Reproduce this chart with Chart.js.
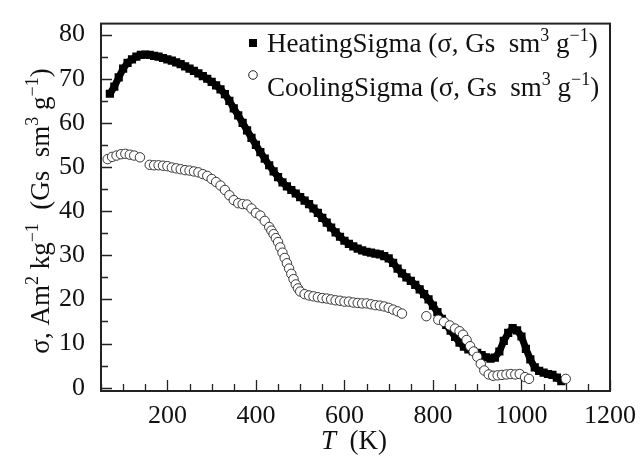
<!DOCTYPE html>
<html>
<head>
<meta charset="utf-8">
<script src="https://cdn.jsdelivr.net/npm/chart.js@4.4.1/dist/chart.umd.min.js"></script>
<style>
    html, body { margin: 0; padding: 0; background: #fff; }
    #wrap { width: 644px; height: 456px; }
</style>
</head>
<body>
<div id="wrap"><canvas id="chart" width="644" height="456"></canvas></div>
<script>
// heating run, T in K and sigma
const heatingT = [70, 80, 90, 100, 110, 120, 130, 140, 150, 160, 170, 180, 190, 200, 210, 220, 230, 240, 250, 260,
    270, 280, 290, 300, 310, 320, 330, 340, 350, 360, 370, 380, 390, 400, 410, 420, 430, 440, 450, 460,
    470, 480, 490, 500, 510, 520, 530, 540, 550, 560, 570, 580, 590, 600, 610, 620, 630, 640, 650, 660,
    670, 680, 690, 700, 710, 720, 730, 740, 750, 760, 770, 780, 790, 800, 810, 820, 830, 840, 850, 860,
    870, 880, 890, 900, 910, 920, 930, 940, 950, 960, 970, 980, 990, 1000, 1010, 1020, 1030, 1040, 1050, 1060,
    1070, 1080, 1090]
const heatingSigma = [66.6, 68.2, 70.3, 72.3, 73.6, 74.4, 75.0, 75.4, 75.5, 75.4, 75.2, 75.0, 74.7, 74.4, 74.1, 73.7, 73.3, 72.8, 72.3, 71.8,
    71.2, 70.6, 70.0, 69.3, 68.5, 67.6, 66.5, 65.0, 63.3, 61.7, 60.0, 58.3, 56.6, 55.0, 53.4, 51.9, 50.4, 49.0, 47.7, 46.5,
    45.6, 44.8, 44.0, 43.2, 42.4, 41.6, 40.6, 39.6, 38.5, 37.4, 36.3, 35.2, 34.2, 33.3, 32.6, 32.0, 31.5, 31.1, 30.8, 30.6,
    30.4, 30.2, 29.8, 29.3, 28.3, 27.0, 25.9, 25.0, 24.2, 23.3, 22.3, 21.2, 20.0, 18.6, 17.1, 15.6, 14.2, 12.9, 11.5, 10.2,
    9.3, 8.7, 8.3, 7.9, 7.4, 6.9, 6.6, 6.8, 8.2, 10.6, 12.4, 13.5, 13.0, 11.6, 8.8, 6.4, 4.6, 3.8, 3.4, 3.1,
    2.9, 2.3, 1.5]

// cooling run
const coolingT = [65, 75, 85, 95, 105, 115, 125, 138,
    160, 170, 180, 190, 200, 210, 220, 230, 240, 250, 260, 270, 280, 290, 300, 310, 320, 330, 340, 350,
    360, 370, 380, 390, 400, 410, 420, 430, 435, 440, 445, 450, 455, 460, 465, 470, 475, 480, 485, 490, 495, 500,
    510, 520, 530, 540, 550,
    560, 570, 580, 590, 600, 610, 620, 630, 640, 650, 660, 670, 680, 690, 700, 710, 720, 730,
    785, 812, 825, 838, 850, 860, 868, 876, 884, 892, 900, 908, 916, 926, 936, 946, 956, 966, 976, 986,
    996, 1008, 1017, 1100]
const coolingSigma = [51.8, 52.3, 52.6, 52.9, 53.0, 52.8, 52.6, 52.2,
    50.5, 50.4, 50.4, 50.3, 50.2, 49.9, 49.7, 49.5, 49.3, 49.2, 49.0, 48.8, 48.4, 48.0, 47.3, 46.6, 45.8, 44.8, 43.6, 42.5,
    41.8, 41.6, 41.5, 40.6, 39.6, 39.0, 37.8, 36.4, 35.6, 34.8, 33.9, 33.0, 31.8, 30.6, 29.4, 28.2, 27.0, 25.8, 24.6, 23.4, 22.5, 21.8,
    21.2, 20.9, 20.7, 20.5, 20.3,
    20.2, 20.0, 19.8, 19.7, 19.5, 19.5, 19.3, 19.2, 19.1, 19.1, 18.9, 18.7, 18.6, 18.4, 18.1, 17.7, 17.3, 16.8,
    16.2, 15.4, 14.9, 14.1, 13.4, 12.8, 12.0, 10.8, 9.4, 8.2, 7.0, 5.4, 3.9, 3.0, 2.7, 2.8, 2.9, 3.0, 3.1, 3.0,
    3.1, 2.4, 2.0, 2.0]

const xTicks = [200, 400, 600, 800, 1000, 1200]
const yTicks = [0, 10, 20, 30, 40, 50, 60, 70, 80]
const xMinorStep = 50
const yMinorStep = 5

const serif = "'Liberation Serif', 'Times New Roman', serif"
const ink = '#111'
const textSize = 27
const tickSize = 26

// [text, superscript?]
const yTitle = [['σ, Am', false], ['2', true], [' kg', false], ['\u22121', true], ['  (Gs  sm', false], ['3', true], [' g', false], ['\u22121', true], [')', false]]
const heatLabel = [['HeatingSigma (σ, Gs  sm', false], ['3', true], [' g', false], ['\u22121', true], [')', false]]
const coolLabel = [['CoolingSigma (σ, Gs  sm', false], ['3', true], [' g', false], ['\u22121', true], [')', false]]

function richWidth(ctx, parts, size) {
    let w = 0
    parts.forEach(([text, sup]) => {
        ctx.font = `${sup ? Math.round(size * 0.68) : size}px ${serif}`
        w += ctx.measureText(text).width
    })
    return w
}

function richText(ctx, x, y, parts, size) {
    let cx = x
    ctx.textAlign = 'left'
    ctx.textBaseline = 'alphabetic'
    parts.forEach(([text, sup]) => {
        ctx.font = `${sup ? Math.round(size * 0.68) : size}px ${serif}`
        ctx.fillText(text, cx, sup ? y - size * 0.42 : y)
        cx += ctx.measureText(text).width
    })
}

const framePlugin = {
    id: 'frame',
    afterDatasetsDraw(chart) {
        const { ctx, chartArea: a, scales: { x, y } } = chart
        ctx.save()
        ctx.strokeStyle = '#222'
        ctx.lineWidth = 1.3
        // inward ticks
        ctx.beginPath()
        for (let v = Math.ceil(x.min / xMinorStep) * xMinorStep; v <= x.max; v += xMinorStep) {
            const px = Math.round(x.getPixelForValue(v)) + 0.5
            const len = v % 200 === 0 ? 11 : 7
            ctx.moveTo(px, a.bottom)
            ctx.lineTo(px, a.bottom - len)
        }
        for (let v = 0; v <= y.max; v += yMinorStep) {
            const py = Math.round(y.getPixelForValue(v)) + 0.5
            const len = v % 10 === 0 ? 11 : 7
            ctx.moveTo(a.left, py)
            ctx.lineTo(a.left + len, py)
        }
        ctx.stroke()
        ctx.lineWidth = 2
        ctx.strokeRect(a.left, a.top, a.right - a.left, a.bottom - a.top)

        // legend
        ctx.fillStyle = '#000'
        ctx.fillRect(249, 39, 8, 8)
        ctx.beginPath()
        ctx.arc(253, 75, 4.3, 0, Math.PI * 2)
        ctx.fillStyle = '#fff'
        ctx.fill()
        ctx.lineWidth = 1
        ctx.strokeStyle = '#222'
        ctx.stroke()
        ctx.fillStyle = ink
        richText(ctx, 267, 52, heatLabel, textSize)
        richText(ctx, 267, 96, coolLabel, textSize)

        // axis titles
        ctx.save()
        ctx.translate(49, 211)
        ctx.rotate(-Math.PI / 2)
        richText(ctx, -richWidth(ctx, yTitle, textSize) / 2, 0, yTitle, textSize)
        ctx.restore()

        ctx.font = `italic ${textSize}px ${serif}`
        const tw = ctx.measureText('T').width
        ctx.font = `${textSize}px ${serif}`
        const kw = ctx.measureText('  (K)').width
        const sx = 354 - (tw + kw) / 2
        ctx.textAlign = 'left'
        ctx.font = `italic ${textSize}px ${serif}`
        ctx.fillText('T', sx, 449)
        ctx.font = `${textSize}px ${serif}`
        ctx.fillText('  (K)', sx + tw, 449)
        ctx.restore()
    }
}

const tickFont = { family: serif, size: tickSize }

new Chart(document.getElementById('chart'), {
    type: 'scatter',
    data: {
        datasets: [
            {
                label: 'CoolingSigma',
                data: coolingT.map((t, i) => ({ x: t, y: coolingSigma[i] })),
                pointStyle: 'circle',
                radius: 4.7,
                backgroundColor: '#fff',
                borderColor: '#222',
                borderWidth: 0.9,
                order: 0
            },
            {
                label: 'HeatingSigma',
                data: heatingT.map((t, i) => ({ x: t, y: heatingSigma[i] })),
                showLine: true,
                borderWidth: 7,
                borderColor: '#000',
                pointStyle: 'rect',
                radius: 5.8,
                pointBackgroundColor: '#000',
                pointBorderWidth: 0,
                order: 1
            }
        ]
    },
    options: {
        responsive: false,
        animation: false,
        layout: { padding: { left: 0, right: 34, top: 9, bottom: 0 } },
        plugins: { legend: { display: false }, tooltip: { enabled: false } },
        scales: {
            x: {
                type: 'linear',
                min: 50,
                max: 1200,
                afterBuildTicks: scale => { scale.ticks = xTicks.map(v => ({ value: v })) },
                afterFit: scale => { scale.height = 65 },
                grid: { display: false },
                border: { display: false },
                ticks: { font: tickFont, color: ink, padding: 2, maxRotation: 0, autoSkip: false, callback: v => String(v) }
            },
            y: {
                type: 'linear',
                min: -0.75,
                max: 82.5,
                afterBuildTicks: scale => { scale.ticks = yTicks.map(v => ({ value: v })) },
                afterFit: scale => { scale.width = 101 },
                grid: { display: false },
                border: { display: false },
                ticks: { font: tickFont, color: ink, padding: 8, autoSkip: false, callback: v => String(v) }
            }
        }
    },
    plugins: [framePlugin]
})
</script>
</body>
</html>
